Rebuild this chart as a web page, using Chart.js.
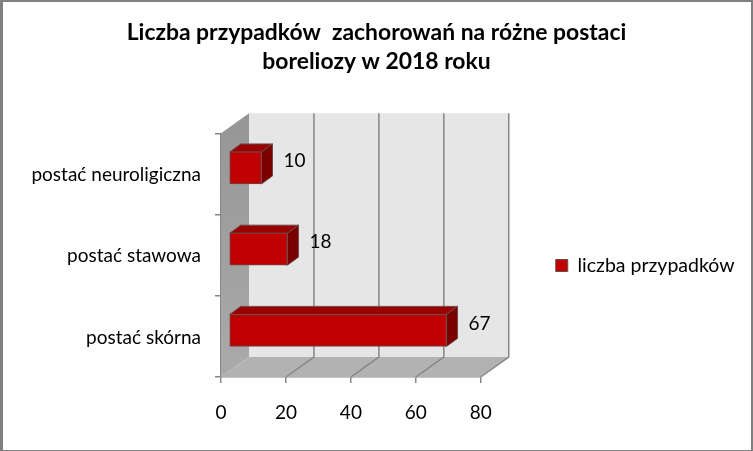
<!DOCTYPE html>
<html lang="pl">
  <head>
    <meta charset="utf-8" />
    <title>Liczba przypadków zachorowań na różne postaci boreliozy w 2018 roku</title>
    <style>
      * {
        margin: 0;
        padding: 0;
      }
      body {
        background: white;
      }
      #wrap {
        position: relative;
        width: 753px;
        height: 451px;
      }
      #wrap::after {
        content: "";
        position: absolute;
        inset: 0;
        border: solid #808080;
        border-width: 2px 2px 1px 3px;
        pointer-events: none;
      }
    </style>
  </head>
  <body>
    <div id="wrap"><canvas id="myChart" width="753" height="451"></canvas></div>
    <script src="https://cdn.jsdelivr.net/npm/chart.js"></script>
    <script>
      const categories = ["postać neuroligiczna", "postać stawowa", "postać skórna"];
      const seriesName = "liczba przypadków";
      const cases = [10, 18, 67];
      const titleLines = [
        "Liczba przypadków  zachorowań na różne postaci",
        "boreliozy w 2018 roku",
      ];

      // 3d look: how far the back wall and the bars are pushed
      const WALL_DX = 28;
      const WALL_DY = 20;
      const BAR_DX = 8;
      const BAR_DY = 6;
      const FACE_DX = 11;
      const FACE_DY = 8;
      const LEGEND_SHIFT = 55;
      const LEGEND_DROP = 40;
      const FONT = "Lato, sans-serif";

      function poly(ctx, pts, fill, stroke) {
        ctx.beginPath();
        pts.forEach((p, i) => (i ? ctx.lineTo(p[0], p[1]) : ctx.moveTo(p[0], p[1])));
        ctx.closePath();
        ctx.fillStyle = fill;
        ctx.fill();
        if (stroke) {
          ctx.strokeStyle = stroke;
          ctx.lineWidth = 1;
          ctx.stroke();
        }
      }

      const walls = {
        id: "walls",
        afterLayout(chart) {
          // right padding is only there to squeeze the plot, so undo it for title and legend
          chart.titleBlock.left = 0;
          chart.titleBlock.right = chart.width;
          chart.legend.left += LEGEND_SHIFT;
          chart.legend.right = chart.width;
          chart.legend.top += LEGEND_DROP;
          chart.legend.bottom += LEGEND_DROP;
        },
        beforeDatasetsDraw(chart) {
          const { ctx, chartArea: a, scales } = chart;
          ctx.save();
          poly(ctx, [[a.left + WALL_DX, a.top - WALL_DY], [a.right + WALL_DX, a.top - WALL_DY],
            [a.right + WALL_DX, a.bottom - WALL_DY], [a.left + WALL_DX, a.bottom - WALL_DY]], "#e6e6e6");
          const side = ctx.createLinearGradient(0, a.top - WALL_DY, 0, a.bottom);
          side.addColorStop(0, "#969696");
          side.addColorStop(1, "#aaaaaa");
          poly(ctx, [[a.left, a.top], [a.left + WALL_DX, a.top - WALL_DY],
            [a.left + WALL_DX, a.bottom - WALL_DY], [a.left, a.bottom]], side);
          poly(ctx, [[a.left, a.bottom], [a.right, a.bottom],
            [a.right + WALL_DX, a.bottom - WALL_DY], [a.left + WALL_DX, a.bottom - WALL_DY]], "#b2b2b2");
          // grid runs over the floor and up the back wall
          ctx.strokeStyle = "#868686";
          ctx.lineWidth = 1.5;
          scales.x.ticks.forEach((t) => {
            if (t.value === 0) return;
            const x = scales.x.getPixelForValue(t.value);
            ctx.beginPath();
            ctx.moveTo(x, a.bottom);
            ctx.lineTo(x + WALL_DX, a.bottom - WALL_DY);
            ctx.lineTo(x + WALL_DX, a.top - WALL_DY);
            ctx.stroke();
          });
          ctx.restore();
        },
      };

      const bars3d = {
        id: "bars3d",
        beforeDatasetDraw(chart, args) {
          const ctx = chart.ctx;
          ctx.save();
          ctx.translate(BAR_DX, -BAR_DY);
          args.meta.data.forEach((bar) => {
            const top = bar.y - bar.height / 2;
            const bottom = bar.y + bar.height / 2;
            poly(ctx, [[bar.base, top], [bar.x, top], [bar.x + FACE_DX, top - FACE_DY],
              [bar.base + FACE_DX, top - FACE_DY]], "#990000", "#6e4a4a");
            poly(ctx, [[bar.x, top], [bar.x + FACE_DX, top - FACE_DY],
              [bar.x + FACE_DX, bottom - FACE_DY], [bar.x, bottom]], "#7a0000", "#6e4a4a");
          });
        },
        afterDatasetDraw(chart, args) {
          const ctx = chart.ctx;
          ctx.restore();
          ctx.save();
          ctx.fillStyle = "#000";
          ctx.font = "19px " + FONT;
          ctx.textBaseline = "middle";
          args.meta.data.forEach((bar, i) => {
            ctx.fillText(cases[i], bar.x + BAR_DX + 22, bar.y - 13);
          });
          ctx.restore();
        },
      };

      const config = {
        type: "bar",
        data: {
          labels: categories,
          datasets: [
            {
              label: seriesName,
              data: cases,
              backgroundColor: "#c00000",
              borderColor: "#6e4a4a",
              borderWidth: 1,
              borderSkipped: false,
              barThickness: 32,
            },
          ],
        },
        options: {
          indexAxis: "y",
          responsive: false,
          animation: false,
          layout: { padding: { top: 0, right: 112, bottom: 0, left: 0 } },
          plugins: {
            tooltip: { enabled: false },
            title: {
              display: true,
              text: titleLines,
              color: "#000",
              font: { family: FONT, size: 22.9, weight: "bold", lineHeight: 1.23 },
              padding: { top: 19, bottom: 58 },
            },
            legend: {
              position: "right",
              labels: {
                boxWidth: 12,
                boxHeight: 12,
                padding: 20,
                color: "#000",
                font: { family: FONT, size: 19.5 },
              },
            },
          },
          scales: {
            x: {
              min: 0,
              max: 80,
              ticks: { stepSize: 20, color: "#000", padding: 18, font: { family: FONT, size: 19 } },
              grid: { drawOnChartArea: false, color: "#868686", tickLength: 6, lineWidth: 1.5 },
              border: { color: "#868686", width: 1.5 },
              afterFit(scale) {
                scale.height = 74;
              },
            },
            y: {
              ticks: { color: "#000", padding: 14, labelOffset: 1, font: { family: FONT, size: 19 } },
              grid: { drawOnChartArea: false, offset: true, color: "#868686", tickLength: 6, lineWidth: 1.5 },
              border: { color: "#868686", width: 1.5 },
              afterFit(scale) {
                scale.width = 221;
              },
            },
          },
        },
        plugins: [walls, bars3d],
      };

      const myChart = new Chart(document.getElementById("myChart"), config);
    </script>
  </body>
</html>
